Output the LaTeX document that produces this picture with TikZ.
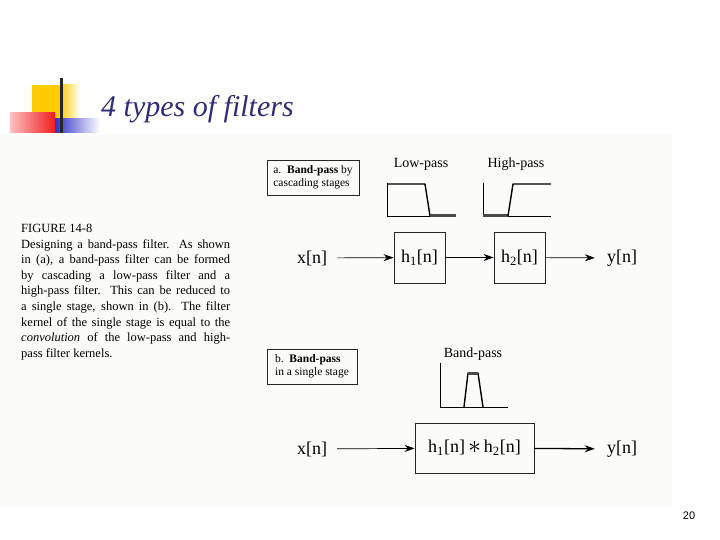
\documentclass[tikz,border=0pt]{standalone}
\usepackage{fontspec}
\setmainfont{Liberation Serif}
\newfontfamily\pagefont{Liberation Sans}
\usepackage{tikz}
\usetikzlibrary{arrows.meta}
\definecolor{titleblue}{RGB}{46,46,120}
\definecolor{pagebg}{RGB}{251,252,249}
\definecolor{logoyellow}{RGB}{255,204,0}
\definecolor{logored}{RGB}{240,30,30}
\definecolor{logoblue}{RGB}{50,50,200}
\newcommand{\fullline}[1]{\makebox[209pt][s]{#1}}

\begin{document}
\begin{tikzpicture}[x=1pt,y=-1pt,
  lbl/.style={inner sep=0pt,font=\fontsize{18}{20}\selectfont},
  filt/.style={draw=black!85,line width=0.9pt,minimum height=51pt,inner sep=0pt,font=\fontsize{18}{20}\selectfont},
  tag/.style={draw=black!85,line width=0.9pt,align=left,inner sep=0pt,minimum height=35pt,font=\fontsize{11.5}{13}\selectfont},
  plotname/.style={inner sep=0pt,font=\fontsize{14}{15}\selectfont},
  sig/.style={-{Stealth[length=10pt,width=7pt]},line width=0.7pt,shorten <=10pt},
  resp/.style={line width=1.4pt,line join=round},
  stopband/.style={line width=3pt,black!70}]
\useasboundingbox (0,0) rectangle (720,540);
\fill[pagebg] (0,135) rectangle (672,507);
\fill[logoyellow] (32,85) rectangle (60,120);
\shade[left color=logoyellow,right color=white] (60,85) rectangle (80,120);
\shade[left color=red!25,right color=logored] (10,113) rectangle (55,133);
\shade[left color=logoblue,right color=white] (55,119) rectangle (100,133);
\fill[black!85] (60,78) rectangle (63,133);
\node[anchor=base west,inner sep=0pt,text=titleblue,font=\itshape\fontsize{30}{34}\selectfont] (title) at (101,117) {4 types of filters};

\node[anchor=north west,inner sep=0pt,text width=209pt,align=justify,font=\fontsize{12.5}{15.6}\selectfont] (caption) at (21,224) {%
FIGURE 14-8\\
\fullline{Designing a band-pass filter. As shown}\\
\fullline{in (a), a band-pass filter can be formed}\\
\fullline{by cascading a low-pass filter and a}\\
\fullline{high-pass filter.\ \ This can be reduced to}\\
\fullline{a single stage, shown in (b). The filter}\\
\fullline{kernel of the single stage is equal to the}\\
\fullline{\textit{convolution} of the low-pass and high-}\\
pass filter kernels.};

\node[tag,minimum width=92pt] (taga) at (313,177.5) {a.\ \ \textbf{Band-pass} by\\cascading stages};
\node[plotname] (lowname) at (421,164) {Low-pass};
\node[plotname] (highname) at (516,164) {High-pass};
\draw[line width=0.8pt] (387,183) -- (387,216) -- (456,216);
\draw[resp] (387,184) -- (425,184) -- (430,216);
\draw[stopband] (430,216) -- (456,216);
\draw[line width=0.8pt] (483,183) -- (483,216) -- (551,216);
\draw[stopband] (483,216) -- (508,216);
\draw[resp] (508,216) -- (513,184) -- (551,184);

\node[lbl] (xa) at (312,258) {x[n]};
\node[filt,minimum width=51pt] (h1) at (419.5,257.5) {h\textsubscript{1}[n]};
\node[filt,minimum width=51pt] (h2) at (519.5,257.5) {h\textsubscript{2}[n]};
\node[lbl] (ya) at (622,258) {y[n]};
\draw[sig] (xa) -- (h1);
\draw[sig,shorten <=0pt] (h1) -- (h2);
\draw[sig,shorten <=0pt,shorten >=12pt] (h2) -- (ya);

\node[tag,minimum width=90pt] (tagb) at (312,366.5) {b.\ \ \textbf{Band-pass}\\in a single stage};
\node[plotname] (bandname) at (473,354) {Band-pass};
\draw[line width=0.8pt] (440,363) -- (440,407) -- (508,407);
\draw[resp] (464,407) -- (468,373) -- (478,373) -- (483,407);
\draw[stopband] (468,373) -- (478,373);

\node[lbl] (xb) at (312,449) {x[n]};
\node[filt,minimum width=119pt,minimum height=50pt] (hb) at (474.5,448) {h\textsubscript{1}[n]\,\raisebox{-1pt}{\scalebox{1.5}{$*$}}\,h\textsubscript{2}[n]};
\node[lbl] (yb) at (622,449) {y[n]};
\draw[sig] (xb) -- (hb);
\draw[sig,line width=1.3pt,shorten <=0pt,shorten >=12pt] (hb) -- (yb);

\node[inner sep=0pt,font=\pagefont\fontsize{11}{12}\selectfont] (page) at (689,516) {20};
\end{tikzpicture}
\end{document}
